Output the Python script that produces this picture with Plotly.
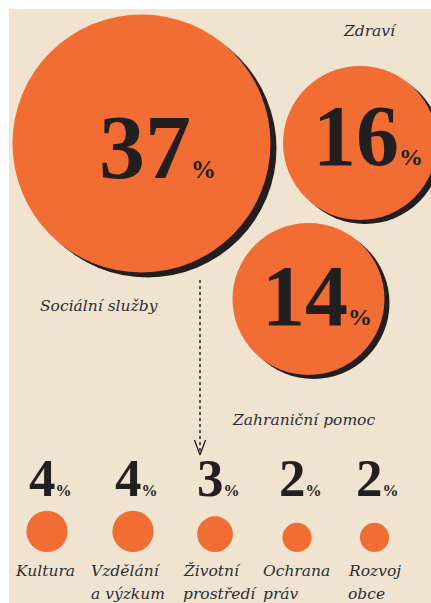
import plotly.graph_objects as go

# ---------------- data ----------------
big_labels = ["Sociální služby", "Zdraví", "Zahraniční pomoc"]
big_values = [37, 16, 14]

small_labels = [["Kultura"], ["Vzdělání", "a výzkum"], ["Životní", "prostředí"],
                ["Ochrana", "práv"], ["Rozvoj", "obce"]]
small_values = [4, 4, 3, 2, 2]

# ---------------- layout / style ----------------
W, H = 431, 603
BEIGE = "#f0e4d0"
ORANGE = "#f26d33"
INK = "#231f20"
LABEL = "#2c2c3a"
NUM_FONT = "Liberation Serif"
LAB_FONT = "DejaVu Serif"
LAB_SIZE = 15.5

big_cx = [141.5, 360, 308.5]
big_cy = [143.5, 143, 299]
big_d = [258, 154, 152]
shadow_dx = [6, 5, 5]
shadow_dy = [5, 4, 4]
big_num_dx = [16, 8, 8]
big_num_y = [146.5, 136, 295.5]
big_num_size = [92, 86, 86]
big_pct_size = [25, 24, 24]
big_label_pos = [(38, 306), (341, 31), (230, 420)]

small_cx = [47, 133, 215, 297, 374.5]
small_bottom = 552
small_scale = 10.3
small_num_y = 478
small_label_x = [13, 89, 181, 261, 346]
small_label_y0 = 571
small_line_gap = 23

arrow_x = 200
arrow_y0, arrow_y1 = 280, 455

fig = go.Figure()

# shadows of big circles
fig.add_trace(go.Scatter(
    x=[c + d for c, d in zip(big_cx, shadow_dx)],
    y=[c + d for c, d in zip(big_cy, shadow_dy)],
    mode="markers",
    marker=dict(size=big_d, color=INK, line=dict(width=0), opacity=1),
    hoverinfo="skip", showlegend=False))
# big circles
fig.add_trace(go.Scatter(
    x=big_cx, y=big_cy, mode="markers",
    marker=dict(size=big_d, color=ORANGE, line=dict(width=0), opacity=1),
    text=big_labels, hoverinfo="text", showlegend=False))

# small circles (area proportional)
small_r = [small_scale * v ** 0.5 for v in small_values]
fig.add_trace(go.Scatter(
    x=small_cx, y=[small_bottom - r for r in small_r], mode="markers",
    marker=dict(size=[2 * r for r in small_r], color=ORANGE, line=dict(width=0), opacity=1),
    text=[" ".join(l) for l in small_labels], hoverinfo="text", showlegend=False))

# dotted arrow
fig.add_trace(go.Scatter(
    x=[arrow_x, arrow_x], y=[arrow_y0, arrow_y1 - 2], mode="lines",
    line=dict(color=INK, width=1.5, dash="dot"),
    hoverinfo="skip", showlegend=False))
fig.add_trace(go.Scatter(
    x=[arrow_x - 5.5, arrow_x, arrow_x + 5.5], y=[arrow_y1 - 15, arrow_y1, arrow_y1 - 15],
    mode="lines", line=dict(color=INK, width=1.3),
    hoverinfo="skip", showlegend=False))

annotations = []
for i, v in enumerate(big_values):
    annotations.append(dict(
        x=big_cx[i] + big_num_dx[i], y=big_num_y[i], xref="x", yref="y",
        text=f"{v}<span style='font-size:{big_pct_size[i]}px'>%</span>",
        showarrow=False, xanchor="center", yanchor="middle",
        font=dict(family=NUM_FONT, size=big_num_size[i], color=INK, weight="bold")))
    lx, ly = big_label_pos[i]
    annotations.append(dict(
        x=lx, y=ly, xref="x", yref="y", text=f"<i>{big_labels[i]}</i>",
        showarrow=False, xanchor="left", yanchor="middle",
        font=dict(family=LAB_FONT, size=LAB_SIZE, color=LABEL)))

for i, v in enumerate(small_values):
    annotations.append(dict(
        x=small_cx[i] + 3, y=small_num_y, xref="x", yref="y",
        text=f"{v}<span style='font-size:16px'>%</span>",
        showarrow=False, xanchor="center", yanchor="middle",
        font=dict(family=NUM_FONT, size=53, color=INK, weight="bold")))
    for j, line in enumerate(small_labels[i]):
        annotations.append(dict(
            x=small_label_x[i], y=small_label_y0 + j * small_line_gap, xref="x", yref="y",
            text=f"<i>{line}</i>", showarrow=False, xanchor="left", yanchor="middle",
            font=dict(family=LAB_FONT, size=LAB_SIZE, color=LABEL)))

fig.update_layout(
    width=W, height=H, autosize=False,
    margin=dict(l=0, r=0, t=0, b=0, pad=0),
    paper_bgcolor="white", plot_bgcolor="white",
    xaxis=dict(range=[0, W], visible=False, fixedrange=True),
    yaxis=dict(range=[H, 0], visible=False, fixedrange=True),
    shapes=[dict(type="rect", xref="x", yref="y", x0=9, y0=9, x1=W, y1=H,
                 fillcolor=BEIGE, line=dict(width=0), layer="below")],
    annotations=annotations,
    showlegend=False,
)

fig.write_html("out.html", config=dict(displayModeBar=False),
               post_script="document.body.style.margin='0';document.body.style.overflow='hidden';")
